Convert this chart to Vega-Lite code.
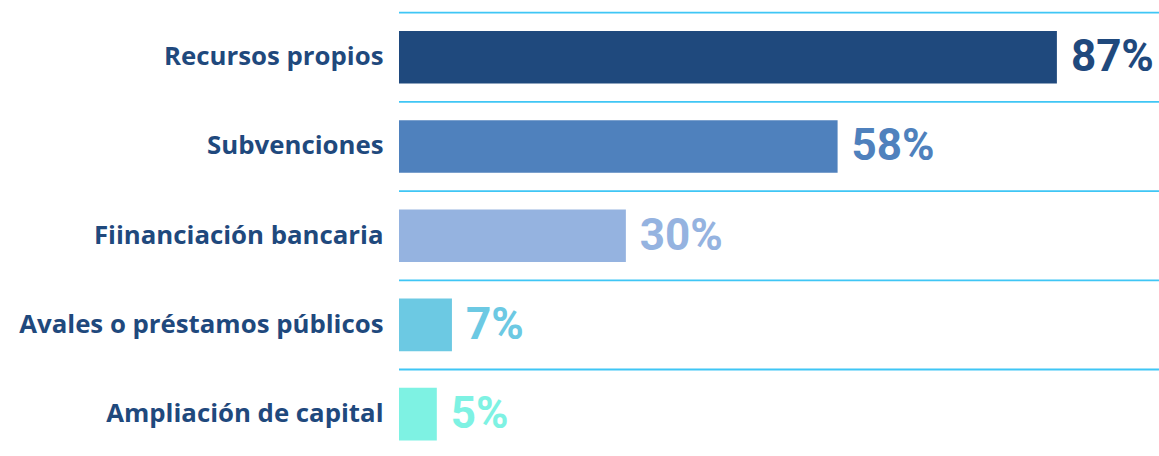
{
  "$schema": "https://vega.github.io/schema/vega-lite/v6.json",
  "autosize": {"type": "none"},
  "padding": {"left": 399, "top": 12.7, "right": 0, "bottom": 0},
  "width": 760,
  "height": 446,
  "background": "white",
  "config": {"view": {"stroke": null}},
  "data": {
    "values": [
      {"categoria": "Recursos propios", "valor": 87, "etiqueta": "87%"},
      {"categoria": "Subvenciones", "valor": 58, "etiqueta": "58%"},
      {"categoria": "Fiinanciación bancaria", "valor": 30, "etiqueta": "30%"},
      {"categoria": "Avales o préstamos públicos", "valor": 7, "etiqueta": "7%"},
      {"categoria": "Ampliación de capital", "valor": 5, "etiqueta": "5%"}
    ]
  },
  "encoding": {
    "y": {
      "field": "categoria",
      "type": "nominal",
      "sort": null,
      "scale": {"paddingInner": 0.41, "paddingOuter": 0.205},
      "axis": {
        "title": null,
        "domain": false,
        "ticks": false,
        "grid": false,
        "labelFont": "Open Sans",
        "labelFontSize": 25.8,
        "labelFontWeight": "bold",
        "labelColor": "#1F497D",
        "labelPadding": 16,
        "labelLimit": 0
      }
    }
  },
  "layer": [
    {
      "mark": {"type": "rule", "color": "#3FC6F5", "strokeWidth": 1.8, "yOffset": -18.3},
      "encoding": {
        "y": {"field": "categoria", "type": "nominal", "sort": null, "bandPosition": 0}
      }
    },
    {
      "encoding": {
        "x": {
          "field": "valor",
          "type": "quantitative",
          "scale": {"domain": [0, 100.5], "nice": false, "zero": true},
          "axis": null
        },
        "color": {
          "field": "categoria",
          "type": "nominal",
          "legend": null,
          "scale": {
            "domain": ["Recursos propios", "Subvenciones", "Fiinanciación bancaria", "Avales o préstamos públicos", "Ampliación de capital"],
            "range": ["#1F497D", "#4F81BD", "#95B3E0", "#6CC9E3", "#7EF2E3"]
          }
        }
      },
      "layer": [
        {"mark": {"type": "bar"}},
        {
          "mark": {
            "type": "text",
            "align": "left",
            "baseline": "middle",
            "dx": 14,
            "dy": 1,
            "font": "Roboto",
            "fontSize": 44,
            "fontWeight": "bold"
          },
          "encoding": {"text": {"field": "etiqueta"}}
        }
      ]
    }
  ]
}
